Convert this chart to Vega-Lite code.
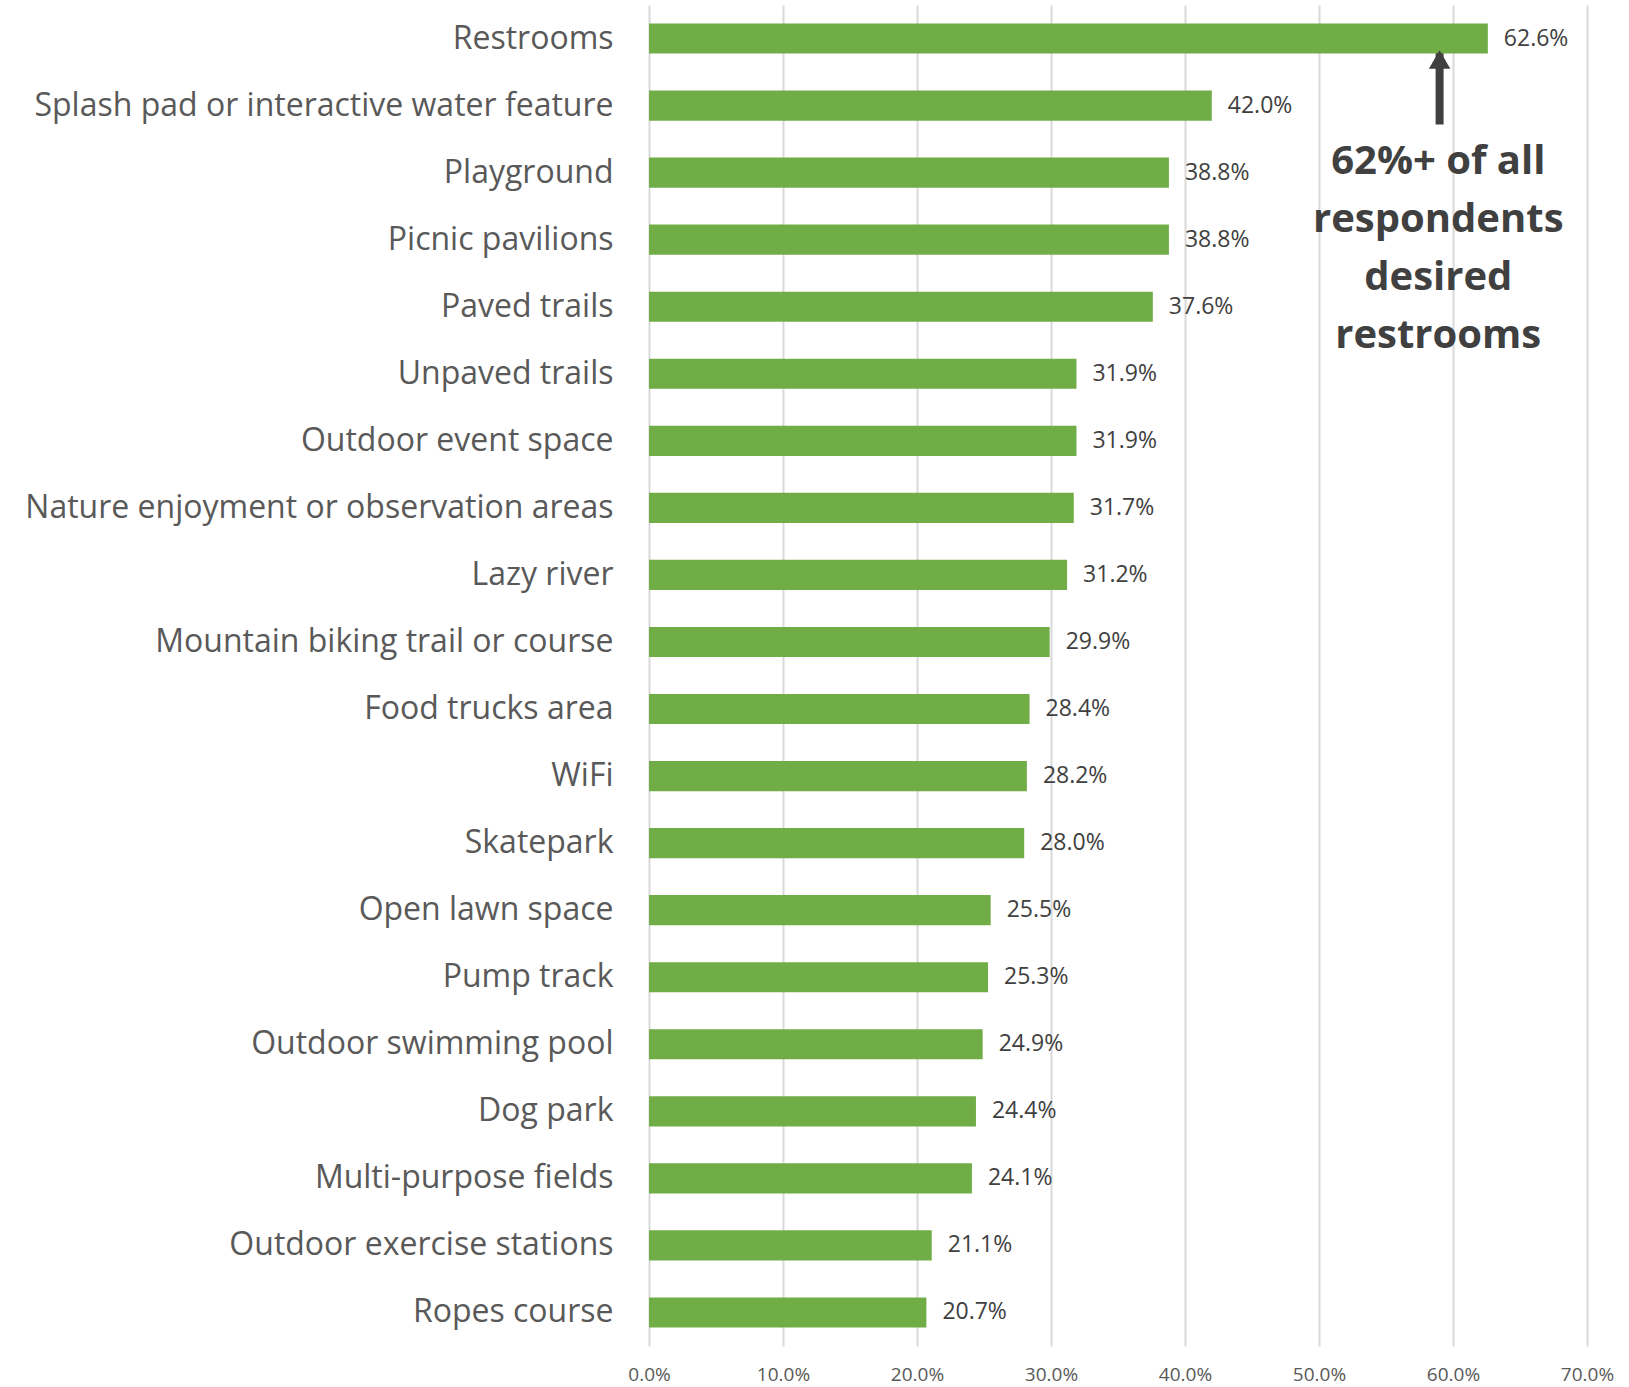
{
  "$schema": "https://vega.github.io/schema/vega-lite/v6.json",
  "autosize": {"type": "none"},
  "padding": {"left": 649, "top": 5, "right": 42, "bottom": 41},
  "width": 938,
  "height": 1341,
  "background": "white",
  "config": {"view": {"stroke": null}, "font": "Open Sans"},
  "datasets": {
    "bars": [
      {"item": "Restrooms", "pct": 0.626},
      {"item": "Splash pad or interactive water feature", "pct": 0.42},
      {"item": "Playground", "pct": 0.388},
      {"item": "Picnic pavilions", "pct": 0.388},
      {"item": "Paved trails", "pct": 0.376},
      {"item": "Unpaved trails", "pct": 0.319},
      {"item": "Outdoor event space", "pct": 0.319},
      {"item": "Nature enjoyment or observation areas", "pct": 0.317},
      {"item": "Lazy river", "pct": 0.312},
      {"item": "Mountain biking trail or course", "pct": 0.299},
      {"item": "Food trucks area", "pct": 0.284},
      {"item": "WiFi", "pct": 0.282},
      {"item": "Skatepark", "pct": 0.28},
      {"item": "Open lawn space", "pct": 0.255},
      {"item": "Pump track", "pct": 0.253},
      {"item": "Outdoor swimming pool", "pct": 0.249},
      {"item": "Dog park", "pct": 0.244},
      {"item": "Multi-purpose fields", "pct": 0.241},
      {"item": "Outdoor exercise stations", "pct": 0.211},
      {"item": "Ropes course", "pct": 0.207}
    ],
    "arrow": [
      {"x": 0.59, "from": "Restrooms", "to": "Splash pad or interactive water feature"}
    ],
    "note": [
      {"x": 0.589, "anchor": "Splash pad or interactive water feature", "text": ["62%+ of all", "respondents", "desired", "restrooms"]}
    ]
  },
  "layer": [
    {
      "data": {"name": "arrow"},
      "mark": {"type": "rule", "color": "#404040", "strokeWidth": 8, "y2Offset": 19},
      "encoding": {
        "x": {"field": "x", "type": "quantitative", "scale": {"domain": [0, 0.7], "nice": false}},
        "y": {"field": "from", "type": "nominal", "sort": null},
        "y2": {"field": "to"}
      }
    },
    {
      "data": {"name": "bars"},
      "mark": {"type": "bar", "color": "#70AD47"},
      "encoding": {
        "y": {
          "field": "item", "type": "nominal", "sort": null,
          "scale": {"paddingInner": 0.55, "paddingOuter": 0.275},
          "axis": {"title": null, "domain": false, "ticks": false, "labelFontSize": 32, "labelColor": "#595959", "labelPadding": 36, "labelLimit": 700}
        },
        "x": {
          "field": "pct", "type": "quantitative",
          "scale": {"domain": [0, 0.7], "nice": false},
          "axis": {"title": null, "format": ".1%", "values": [0, 0.1, 0.2, 0.3, 0.4, 0.5, 0.6, 0.7], "domain": false, "ticks": false, "grid": true, "gridColor": "#d9d9d9", "gridWidth": 2, "labelFontSize": 19, "labelColor": "#595959", "labelPadding": 19, "labelFlush": false}
        }
      }
    },
    {
      "data": {"name": "bars"},
      "mark": {"type": "text", "align": "left", "baseline": "middle", "dx": 16, "fontSize": 23, "color": "#404040"},
      "encoding": {
        "y": {"field": "item", "type": "nominal", "sort": null},
        "x": {"field": "pct", "type": "quantitative"},
        "text": {"field": "pct", "type": "quantitative", "format": ".1%"}
      }
    },
    {
      "data": {"name": "arrow"},
      "mark": {"type": "point", "shape": "triangle-up", "filled": true, "color": "#404040", "size": 460, "opacity": 1, "yOffset": -46},
      "encoding": {
        "x": {"field": "x", "type": "quantitative"},
        "y": {"field": "to", "type": "nominal", "sort": null}
      }
    },
    {
      "data": {"name": "note"},
      "mark": {"type": "text", "align": "center", "baseline": "top", "fontSize": 40, "fontWeight": "bold", "color": "#404040", "lineHeight": 58, "dy": 36},
      "encoding": {
        "x": {"field": "x", "type": "quantitative"},
        "y": {"field": "anchor", "type": "nominal", "sort": null},
        "text": {"field": "text"}
      }
    }
  ]
}
